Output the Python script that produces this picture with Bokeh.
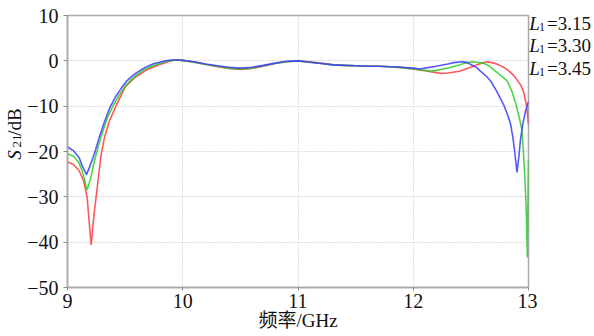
import math
from bokeh.plotting import figure
from bokeh.layouts import row
from bokeh.models import Range1d, FixedTicker
from bokeh.core.properties import value
from bokeh.embed import file_html
from bokeh.resources import INLINE

# ---- data ----
freq_315 = [9.00, 9.05, 9.10, 9.14, 9.17, 9.185, 9.205, 9.23, 9.26, 9.29, 9.32, 9.36, 9.42,
            9.50, 9.55, 9.60, 9.65, 9.70, 9.73, 9.80, 9.85, 9.90, 9.95, 10.00, 10.10, 10.20,
            10.30, 10.40, 10.50, 10.60, 10.70, 10.80, 10.90, 11.00, 11.10, 11.20, 11.30, 11.40,
            11.50, 11.60, 11.70, 11.80, 11.90, 12.00, 12.10, 12.20, 12.25, 12.30, 12.40, 12.50,
            12.55, 12.60, 12.64, 12.70, 12.75, 12.79, 12.83, 12.87, 12.90, 12.93, 12.96, 12.98,
            12.99, 13.00]
s21_315 = [-22.3, -22.8, -24.2, -26.5, -30.0, -34.6, -40.6, -34.0, -27.5, -21.0, -17.0, -13.5, -10.0,
           -5.8, -4.5, -3.4, -2.6, -1.8, -1.5, -0.8, -0.4, 0.0, 0.2, 0.1, -0.3, -0.8,
           -1.3, -1.7, -1.9, -1.7, -1.2, -0.6, -0.2, 0.0, -0.2, -0.5, -0.8, -1.0,
           -1.1, -1.2, -1.2, -1.3, -1.5, -1.8, -2.2, -2.6, -2.8, -2.7, -2.3, -1.4,
           -0.9, -0.5, -0.2, -0.5, -1.0, -1.5, -2.2, -3.2, -4.2, -5.2, -7.0, -9.5,
           -11.5, -14.0]

freq_330 = [9.00, 9.05, 9.10, 9.13, 9.155, 9.17, 9.20, 9.23, 9.26, 9.30, 9.35, 9.40, 9.45,
            9.50, 9.55, 9.60, 9.65, 9.70, 9.75, 9.80, 9.85, 9.93, 10.00, 10.10, 10.20, 10.30,
            10.40, 10.50, 10.60, 10.70, 10.80, 10.90, 11.00, 11.10, 11.20, 11.30, 11.40, 11.50,
            11.60, 11.70, 11.80, 11.90, 12.00, 12.10, 12.15, 12.20, 12.30, 12.40, 12.45, 12.51,
            12.55, 12.60, 12.65, 12.71, 12.76, 12.815, 12.86, 12.89, 12.92, 12.944, 12.967,
            12.98, 12.99, 12.995, 13.00]
s21_330 = [-20.5, -21.0, -22.5, -24.5, -27.0, -28.5, -26.0, -22.5, -19.5, -16.0, -12.3, -9.7, -7.5,
           -5.6, -4.2, -3.1, -2.2, -1.5, -1.0, -0.6, -0.2, 0.2, 0.1, -0.3, -0.8, -1.2,
           -1.6, -1.8, -1.6, -1.1, -0.6, -0.2, 0.0, -0.3, -0.6, -0.9, -1.0, -1.1,
           -1.2, -1.2, -1.3, -1.5, -1.8, -2.1, -2.3, -2.1, -1.6, -0.9, -0.5, -0.2,
           -0.3, -0.5, -1.0, -2.2, -3.2, -4.4, -7.0, -9.5, -12.5, -15.4, -25.0,
           -32.4, -43.4, -33.0, -22.0]

freq_345 = [9.00, 9.05, 9.10, 9.13, 9.165, 9.19, 9.22, 9.245, 9.28, 9.32, 9.37, 9.42, 9.47,
            9.515, 9.55, 9.60, 9.67, 9.75, 9.80, 9.85, 9.90, 9.95, 10.00, 10.10, 10.20, 10.30,
            10.40, 10.50, 10.60, 10.70, 10.80, 10.90, 11.00, 11.10, 11.20, 11.30, 11.40, 11.50,
            11.60, 11.70, 11.80, 11.90, 12.00, 12.06, 12.10, 12.20, 12.30, 12.35, 12.43, 12.47,
            12.50, 12.55, 12.58, 12.63, 12.67, 12.72, 12.76, 12.79, 12.82, 12.845, 12.865, 12.88,
            12.90, 12.915, 12.93, 12.95, 12.975, 13.00]
s21_345 = [-19.0, -19.8, -21.3, -23.3, -25.1, -23.5, -21.5, -19.5, -16.5, -13.5, -10.2, -7.8, -5.9,
           -4.4, -3.6, -2.6, -1.5, -0.6, -0.3, 0.0, 0.2, 0.2, 0.1, -0.2, -0.7, -1.1,
           -1.4, -1.6, -1.4, -1.0, -0.5, -0.1, 0.0, -0.3, -0.6, -0.9, -1.0, -1.1,
           -1.2, -1.2, -1.3, -1.4, -1.6, -1.8, -1.6, -1.2, -0.7, -0.4, -0.2, -0.4,
           -0.8, -1.5, -2.2, -3.3, -4.4, -6.5, -8.5, -10.0, -12.0, -14.0, -17.0, -20.0,
           -24.6, -21.5, -17.5, -14.0, -11.0, -9.0]

series_freqs = [freq_315, freq_330, freq_345]
series_s21 = [s21_315, s21_330, s21_345]
series_colors = ["#ff3b3b", "#2ccc2c", "#3b3bff"]
legend_values = ["3.15", "3.30", "3.45"]

x_ticks = [9, 10, 11, 12, 13]
y_ticks = [-50, -40, -30, -20, -10, 0, 10]

SERIF = "'Liberation Serif'"
TXT = "#111111"
H = 336
FRAME_TOP = 15       # page y of the plot frame's top edge
FRAME_BOTTOM = 287   # page y of the plot frame's bottom edge
LEFT_W = 60          # strip holding the y-axis title (main plot is laid over it)
MAIN_W = 537         # main plot: frame from x=67 to x=528 on the page
SIDE_W = 66          # strip holding the legend texts
SIDE_SHIFT = 9       # pulled left so the texts start right at the frame edge


def blank_strip(width, x0):
    # frames in a row are aligned with the main frame, so map page y directly
    f = figure(width=width, height=H, output_backend="svg", toolbar_location=None,
               x_range=Range1d(x0, x0 + width), y_range=Range1d(FRAME_BOTTOM, FRAME_TOP),
               x_axis_type=None, y_axis_type=None, min_border=0,
               min_border_top=FRAME_TOP, min_border_bottom=H - FRAME_BOTTOM)
    f.outline_line_color = None
    f.background_fill_alpha = 0
    f.border_fill_alpha = 0
    f.grid.visible = False
    return f


# ---- main plot ----
p = figure(width=MAIN_W, height=H, output_backend="svg", toolbar_location=None,
           x_range=Range1d(9, 13), y_range=Range1d(-50, 10),
           min_border_left=67, min_border_right=9, min_border_top=FRAME_TOP,
           min_border_bottom=H - FRAME_BOTTOM)
p.margin = (0, 0, 0, -LEFT_W)
p.background_fill_color = "white"
p.border_fill_alpha = 0
p.outline_line_color = "#a8a8a8"
p.outline_line_width = 1.5

for f, s, c in zip(series_freqs, series_s21, series_colors):
    p.line(f, s, line_color=c, line_width=1.6, line_alpha=0.85)

for ax in (p.xaxis[0], p.yaxis[0]):
    ax.axis_line_color = "#a8a8a8"
    ax.axis_line_width = 1.5
    ax.major_tick_line_color = "#888888"
    ax.minor_tick_line_color = None
    ax.major_tick_in = 0
    ax.major_label_text_font = SERIF
    ax.major_label_text_font_size = "20px"
    ax.major_label_text_color = TXT

p.xaxis.ticker = FixedTicker(ticks=x_ticks)
p.yaxis.ticker = FixedTicker(ticks=y_ticks)
p.xaxis.major_tick_out = 3
p.yaxis.major_tick_out = 4
p.xaxis.major_label_standoff = 3
p.yaxis.major_label_standoff = 5
p.yaxis.major_label_overrides = {t: (("\u2212" + str(abs(t))) if t < 0 else str(t)) for t in y_ticks}

p.xaxis.axis_label = "频率/GHz"
p.xaxis.axis_label_text_font = "'Liberation Serif', 'Noto Sans CJK SC'"
p.xaxis.axis_label_text_font_size = "19px"
p.xaxis.axis_label_text_font_style = "normal"
p.xaxis.axis_label_text_color = TXT
p.xaxis.axis_label_standoff = -1

p.xgrid.ticker = FixedTicker(ticks=x_ticks)
p.ygrid.ticker = FixedTicker(ticks=y_ticks)
for g in (p.xgrid[0], p.ygrid[0]):
    g.grid_line_color = "#bdbdbd"
    g.grid_line_dash = "1 2"
    g.grid_line_width = 1

# ---- y-axis title strip: S_21/dB (rotated, placed by text centres) ----
left = blank_strip(LEFT_W, 0)
ang = math.pi / 2
ykw = dict(angle=ang, text_font=value(SERIF), text_align="center", text_baseline="middle",
           text_color=TXT)
left.text(x=[14], y=[154.5], text=["S"], text_font_style="italic", text_font_size="19px", **ykw)
left.text(x=[16.5], y=[140.5], text=["21"], text_font_size="13px", **ykw)
left.text(x=[14], y=[121.5], text=["/dB"], text_font_size="19px", **ykw)

# ---- legend strip: L_1=value (placed by text centres) ----
side_x0 = LEFT_W + MAIN_W - LEFT_W - SIDE_SHIFT
side = blank_strip(SIDE_W, side_x0)
side.margin = (0, 0, 0, -SIDE_SHIFT)
row_y = [22.5, 45, 67.5]
lkw = dict(text_font=value(SERIF), text_align="center", text_baseline="middle", text_color=TXT)
side.text(x=[side_x0 + 6] * 3, y=row_y, text=["L"] * 3, text_font_style="italic",
          text_font_size="19px", **lkw)
side.text(x=[side_x0 + 13.5] * 3, y=[v + 3.5 for v in row_y], text=["1"] * 3,
          text_font_size="12px", **lkw)
side.text(x=[side_x0 + 40.5] * 3, y=row_y, text=["=" + v for v in legend_values],
          text_font_size="19px", **lkw)

layout = row(left, p, side, spacing=0)
open("out.html", "w").write(file_html(layout, INLINE))
